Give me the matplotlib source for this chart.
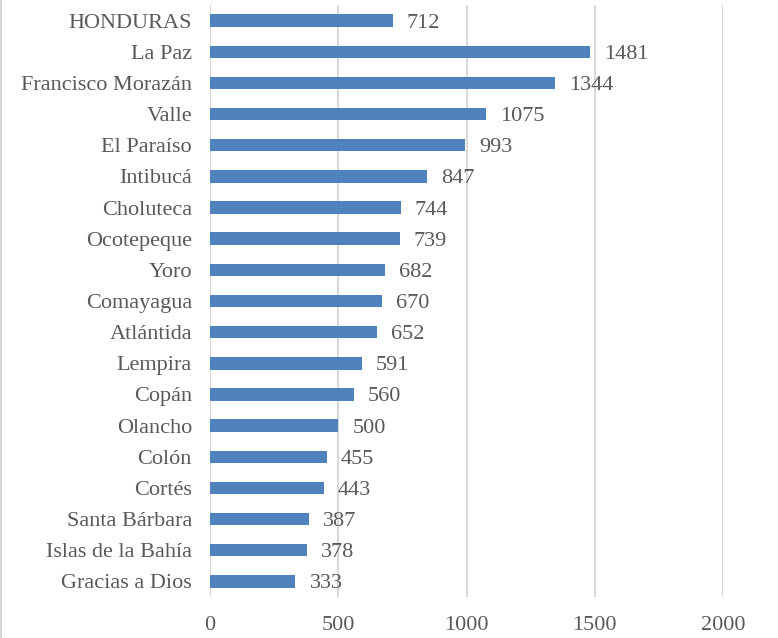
import matplotlib.pyplot as plt
from matplotlib.lines import Line2D

# Datos (de arriba hacia abajo)
departamentos = ["HONDURAS", "La Paz", "Francisco Morazán", "Valle", "El Paraíso",
                 "Intibucá", "Choluteca", "Ocotepeque", "Yoro", "Comayagua",
                 "Atlántida", "Lempira", "Copán", "Olancho", "Colón", "Cortés",
                 "Santa Bárbara", "Islas de la Bahía", "Gracias a Dios"]
valores = [712, 1481, 1344, 1075, 993, 847, 744, 739, 682, 670,
           652, 591, 560, 500, 455, 443, 387, 378, 333]
ticks_x = [0, 500, 1000, 1500, 2000]

plt.rcParams['font.family'] = ['Liberation Serif', 'DejaVu Serif']
gris = '#595959'
fs = 16

fig = plt.figure(figsize=(7.78, 6.38), dpi=100)
ax = fig.add_axes([210 / 778, 1 - 597 / 638, 513 / 778, 592 / 638])

pos = list(range(len(departamentos)))
ax.barh(pos, valores, height=0.4, color='#4F81BD', zorder=3)
for p, v in zip(pos, valores):
    ax.text(v + 55, p + 0.08, str(v), va='center', ha='left', fontsize=fs, color=gris, zorder=4)

ax.set_ylim(len(departamentos) - 0.5, -0.5)
ax.set_xlim(0, 2000)
ax.set_yticks(pos)
ax.set_yticklabels(departamentos, fontsize=fs, color=gris)
ax.set_xticks(ticks_x)
ax.set_xticklabels([str(t) for t in ticks_x], fontsize=fs, color=gris)
ax.tick_params(axis='both', length=0)
ax.tick_params(axis='x', pad=14)
ax.tick_params(axis='y', pad=13)
ax.grid(axis='x', color='#D9D9D9', linewidth=1.5, zorder=0)
for s in ax.spines.values():
    s.set_visible(False)

fig.add_artist(Line2D([0.001, 0.001], [0, 1], transform=fig.transFigure, color='#D9D9D9', linewidth=1.5))

fig.savefig('out.png', dpi=100)
